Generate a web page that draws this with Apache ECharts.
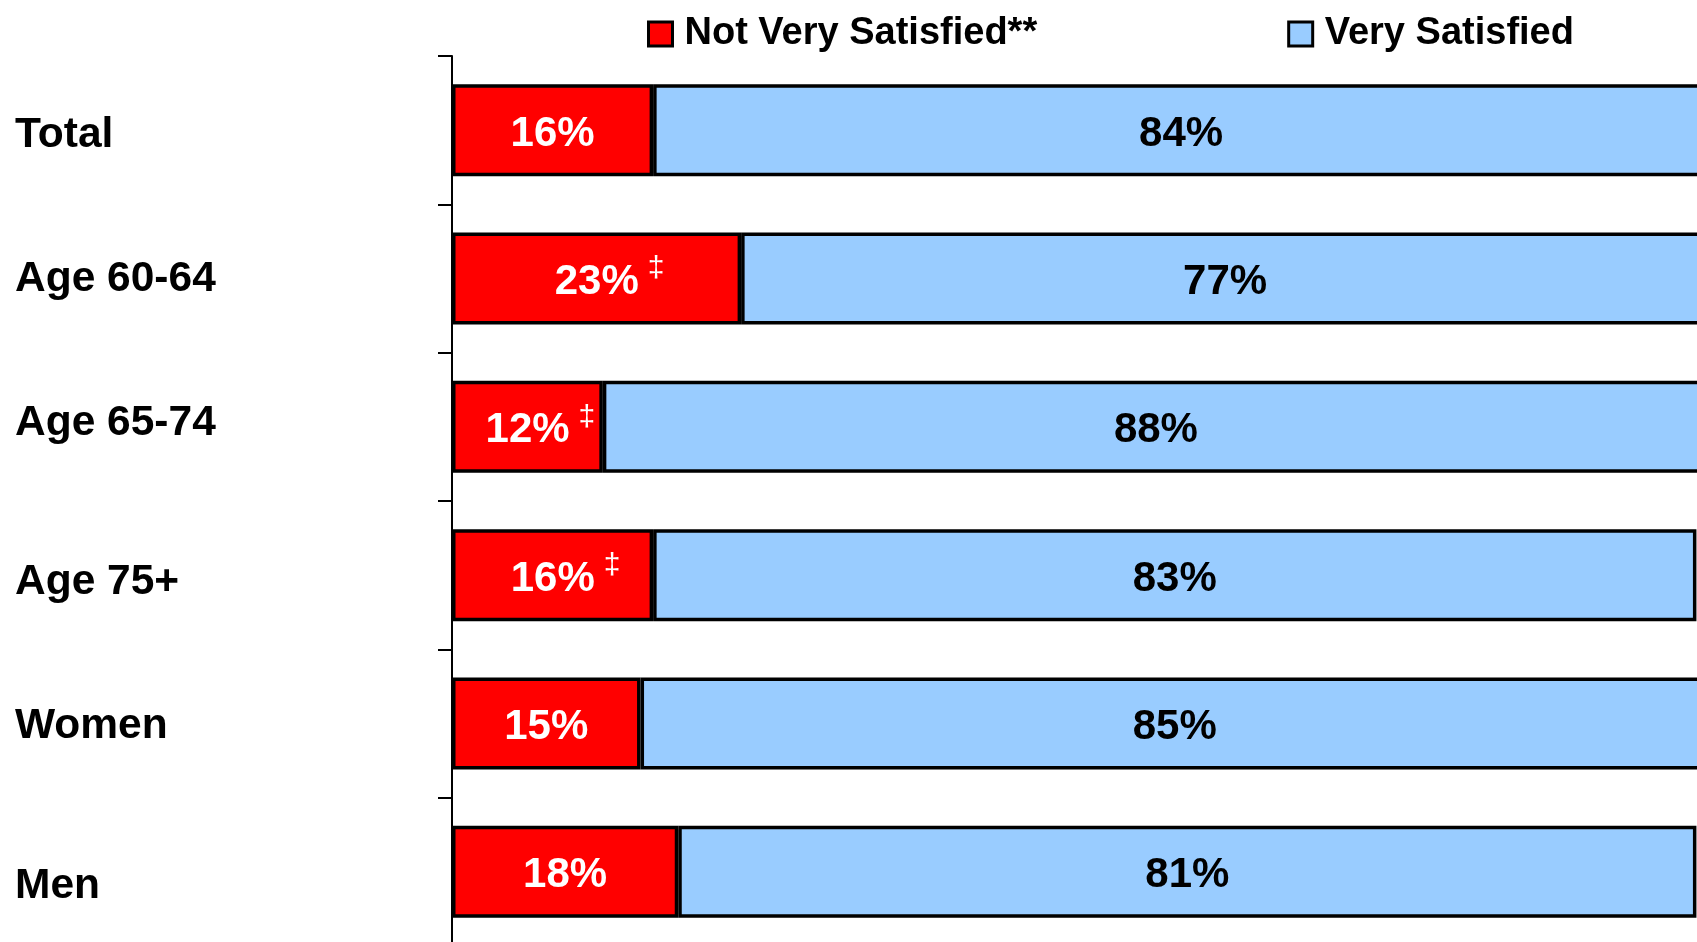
<!DOCTYPE html>
<html>
<head>
<meta charset="utf-8">
<script src="https://cdn.jsdelivr.net/npm/echarts@6/dist/echarts.min.js"></script>
<style>
html,body{margin:0;padding:0;background:#fff;}
#chart{width:1697px;height:942px;}
</style>
</head>
<body>
<div id="chart"></div>
<script>
// ---- data ----
const categories = ['Total', 'Age 60-64', 'Age 65-74', 'Age 75+', 'Women', 'Men'];
const notVerySatisfied = [16, 23, 12, 16, 15, 18];
const verySatisfied = [84, 77, 88, 83, 85, 81];
const footnoteMarks = ['', '\u2021', '\u2021', '\u2021', '', ''];
const seriesNames = ['Not Very Satisfied**', 'Very Satisfied'];

// ---- styling ----
const FONT = "'Liberation Sans', Arial, sans-serif";
const labelNudge = [5, 1, -4, 7.5, 3, 14.5]; // vertical text nudges (px) to match source layout

const catRich = {};
labelNudge.forEach((d, i) => {
  catRich['c' + i] = {
    fontFamily: FONT, fontWeight: 'bold', fontSize: 42.5, color: '#000',
    padding: d >= 0 ? [2 * d, 0, 0, 0] : [0, 0, -2 * d, 0]
  };
});

const chart = echarts.init(document.getElementById('chart'), null, { renderer: 'canvas' });
chart.setOption({
  animation: false,
  backgroundColor: '#ffffff',
  legend: {
    left: 642,
    top: 10,
    itemWidth: 24,
    itemHeight: 24,
    itemGap: 250,
    icon: 'rect',
    itemStyle: { borderColor: '#000', borderWidth: 3 },
    textStyle: { fontFamily: FONT, fontWeight: 'bold', fontSize: 38, color: '#000', padding: [0, 0, 0, 7] },
    data: seriesNames
  },
  grid: { left: 452, top: 56, width: 1257, height: 890, containLabel: false, outerBoundsMode: 'none' },
  xAxis: { type: 'value', min: 0, max: 100, show: false },
  yAxis: {
    type: 'category',
    inverse: true,
    data: categories,
    axisLine: { show: true, lineStyle: { color: '#000', width: 2 } },
    axisTick: { show: true, length: 14, lineStyle: { color: '#000', width: 2 } },
    axisLabel: {
      align: 'left',
      margin: 437,
      fontFamily: FONT,
      fontWeight: 'bold',
      fontSize: 42.5,
      color: '#000',
      formatter: (v, i) => '{c' + i + '|' + v + '}',
      rich: catRich
    }
  },
  series: [
    {
      name: seriesNames[0],
      type: 'bar',
      stack: 'all',
      barWidth: 92,
      data: notVerySatisfied,
      itemStyle: { color: '#FF0000', borderColor: '#000', borderWidth: 3.5 },
      label: {
        show: true,
        position: 'inside',
        offset: [0, 4],
        formatter: (p) => {
          const m = footnoteMarks[p.dataIndex];
          if (m) return '{pad|}{v|' + p.value + '%}{gap|}{d|' + m + '}';
          return '{v|' + p.value + '%}';
        },
        rich: {
          v: { fontFamily: FONT, fontWeight: 'bold', fontSize: 42, color: '#fff', lineHeight: 57 },
          pad: { width: 26, height: 10 },
          gap: { width: 9, height: 10 },
          d: { fontFamily: FONT, fontSize: 30, color: '#fff', verticalAlign: 'top', lineHeight: 12 }
        }
      }
    },
    {
      name: seriesNames[1],
      type: 'bar',
      stack: 'all',
      barWidth: 92,
      data: verySatisfied,
      itemStyle: { color: '#99CCFF', borderColor: '#000', borderWidth: 3.5 },
      label: {
        show: true,
        position: 'inside',
        offset: [0, 4],
        formatter: '{c}%',
        fontFamily: FONT,
        fontWeight: 'bold',
        fontSize: 42,
        color: '#000'
      }
    }
  ]
});
</script>
</body>
</html>
